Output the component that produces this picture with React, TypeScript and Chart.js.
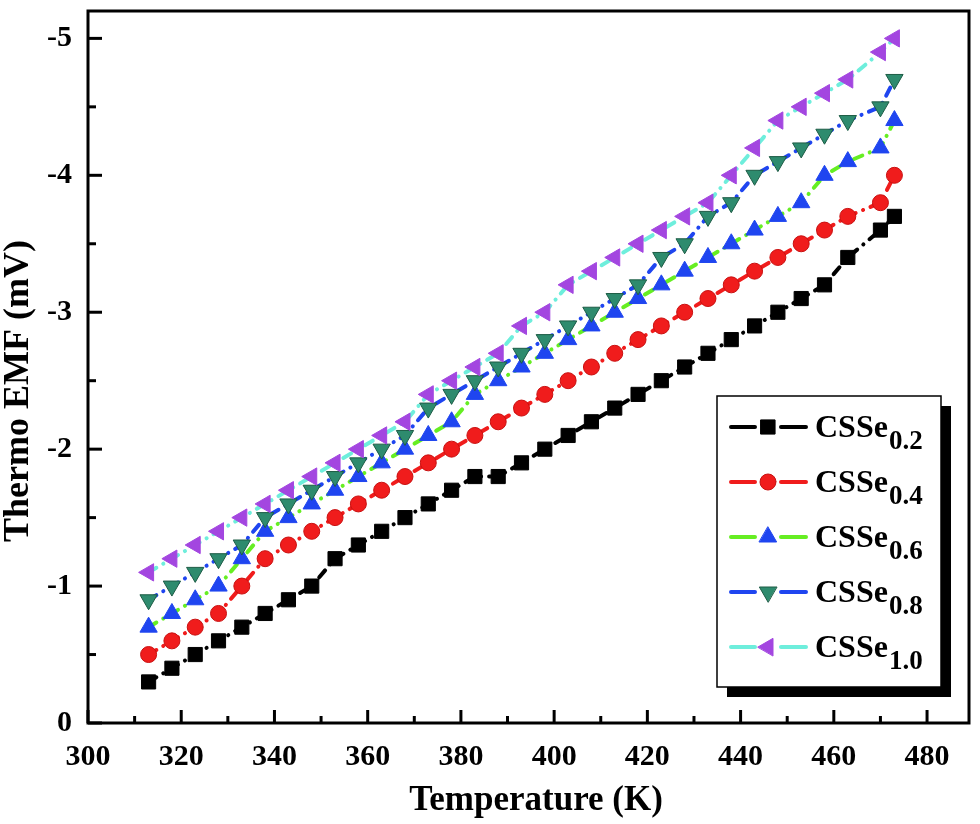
import React, { useEffect, useRef } from 'react';
import { Chart, registerables } from 'chart.js';

Chart.register(...registerables);

const FONT = "'Liberation Serif', 'Times New Roman', serif";

// Temperature (K)
const temperatures = [
  313, 318, 323, 328, 333, 338, 343, 348, 353, 358, 363, 368, 373, 378, 383, 388,
  393, 398, 403, 408, 413, 418, 423, 428, 433, 438, 443, 448, 453, 458, 463, 470, 473,
];

// Thermo EMF (mV)
const emfCSSe02 = [
  -0.3, -0.4, -0.5, -0.6, -0.7, -0.8, -0.9, -1.0, -1.2, -1.3, -1.4, -1.5, -1.6, -1.7, -1.8, -1.8,
  -1.9, -2.0, -2.1, -2.2, -2.3, -2.4, -2.5, -2.6, -2.7, -2.8, -2.9, -3.0, -3.1, -3.2, -3.4, -3.6, -3.7,
];
const emfCSSe04 = [
  -0.5, -0.6, -0.7, -0.8, -1.0, -1.2, -1.3, -1.4, -1.5, -1.6, -1.7, -1.8, -1.9, -2.0, -2.1, -2.2,
  -2.3, -2.4, -2.5, -2.6, -2.7, -2.8, -2.9, -3.0, -3.1, -3.2, -3.3, -3.4, -3.5, -3.6, -3.7, -3.8, -4.0,
];
const emfCSSe06 = [
  -0.7, -0.8, -0.9, -1.0, -1.2, -1.4, -1.5, -1.6, -1.7, -1.8, -1.9, -2.0, -2.1, -2.2, -2.4, -2.5,
  -2.6, -2.7, -2.8, -2.9, -3.0, -3.1, -3.2, -3.3, -3.4, -3.5, -3.6, -3.7, -3.8, -4.0, -4.1, -4.2, -4.4,
];
const emfCSSe08 = [
  -0.9, -1.0, -1.1, -1.2, -1.3, -1.5, -1.6, -1.7, -1.8, -1.9, -2.0, -2.1, -2.3, -2.4, -2.5, -2.6,
  -2.7, -2.8, -2.9, -3.0, -3.1, -3.2, -3.4, -3.5, -3.7, -3.8, -4.0, -4.1, -4.2, -4.3, -4.4, -4.5, -4.7,
];
const emfCSSe10 = [
  -1.1, -1.2, -1.3, -1.4, -1.5, -1.6, -1.7, -1.8, -1.9, -2.0, -2.1, -2.2, -2.4, -2.5, -2.6, -2.7,
  -2.9, -3.0, -3.2, -3.3, -3.4, -3.5, -3.6, -3.7, -3.8, -4.0, -4.2, -4.4, -4.5, -4.6, -4.7, -4.9, -5.0,
];

const seriesValues = [emfCSSe02, emfCSSe04, emfCSSe06, emfCSSe08, emfCSSe10];
const seriesBase = ['CSSe', 'CSSe', 'CSSe', 'CSSe', 'CSSe'];
const seriesSub = ['0.2', '0.4', '0.6', '0.8', '1.0'];

const lineColors = ['#000000', '#f01c1c', '#66ee22', '#1f45f0', '#6eeedc'];
const markerColors = ['#000000', '#f01c1c', '#1f45f0', '#2e8b6e', '#a346e0'];
const markerEdges = ['#000000', '#c81010', '#1f45f0', '#1d5c45', '#a346e0'];
const markerStyles = ['rect', 'circle', 'triangle', 'triangle', 'triangle'];
const markerRotations = [0, 0, 0, 180, 270];
const markerRadii = [10, 8, 10, 10, 10];

const xTickLabels = [300, 320, 340, 360, 380, 400, 420, 440, 460, 480];
const yTickLabels = [0, -1, -2, -3, -4, -5];
const xTitle = 'Temperature (K)';
const yTitle = 'Thermo EMF (mV)';

function drawMarker(ctx, style, rot, x, y, r, fill, stroke) {
  ctx.beginPath();
  if (style === 'rect') {
    const s = r * Math.SQRT1_2;
    ctx.rect(x - s, y - s, 2 * s, 2 * s);
  } else if (style === 'circle') {
    ctx.arc(x, y, r, 0, Math.PI * 2);
  } else {
    let rad = (rot * Math.PI) / 180;
    ctx.moveTo(x + Math.sin(rad) * r, y - Math.cos(rad) * r);
    rad += (2 * Math.PI) / 3;
    ctx.lineTo(x + Math.sin(rad) * r, y - Math.cos(rad) * r);
    rad += (2 * Math.PI) / 3;
    ctx.lineTo(x + Math.sin(rad) * r, y - Math.cos(rad) * r);
    ctx.closePath();
  }
  ctx.fillStyle = fill;
  ctx.fill();
  ctx.lineWidth = 1;
  ctx.strokeStyle = stroke;
  ctx.stroke();
}

const frameTicksPlugin = {
  id: 'frameTicks',
  afterDatasetsDraw(chart) {
    const { ctx, chartArea } = chart;
    const xs = chart.scales.x;
    const ys = chart.scales.y;
    ctx.save();
    ctx.strokeStyle = '#000';
    ctx.lineWidth = 3;
    ctx.lineCap = 'butt';
    xs.ticks.forEach((t) => {
      const v = t.value;
      if (Math.abs(v / 10 - Math.round(v / 10)) > 1e-6) return;
      const major = Math.abs(v / 20 - Math.round(v / 20)) < 1e-6;
      const px = xs.getPixelForValue(v);
      ctx.beginPath();
      ctx.moveTo(px, chartArea.bottom);
      ctx.lineTo(px, chartArea.bottom - (major ? 13 : 7));
      ctx.stroke();
    });
    ys.ticks.forEach((t) => {
      const v = t.value;
      if (Math.abs(v * 2 - Math.round(v * 2)) > 1e-6) return;
      const major = Math.abs(v - Math.round(v)) < 1e-6;
      const py = ys.getPixelForValue(v);
      ctx.beginPath();
      ctx.moveTo(chartArea.left, py);
      ctx.lineTo(chartArea.left + (major ? 14 : 8), py);
      ctx.stroke();
    });
    ctx.strokeRect(chartArea.left, chartArea.top, chartArea.right - chartArea.left, chartArea.bottom - chartArea.top);
    ctx.restore();
  },
};

const titlesLegendPlugin = {
  id: 'titlesLegend',
  afterDraw(chart) {
    const { ctx } = chart;
    ctx.save();
    ctx.fillStyle = '#000';
    ctx.textAlign = 'center';
    ctx.textBaseline = 'middle';
    ctx.font = `bold 35px ${FONT}`;
    ctx.fillText(xTitle, 536, 801);
    ctx.save();
    ctx.translate(19, 391);
    ctx.rotate(-Math.PI / 2);
    ctx.font = `bold 36px ${FONT}`;
    ctx.fillText(yTitle, 0, 0);
    ctx.restore();

    const bx = 717, by = 396, bw = 224, bh = 291;
    ctx.fillStyle = '#000';
    ctx.fillRect(bx + 10, by + 10, bw, bh);
    ctx.fillStyle = '#fff';
    ctx.fillRect(bx, by, bw, bh);
    ctx.strokeStyle = '#000';
    ctx.lineWidth = 1.5;
    ctx.strokeRect(bx, by, bw, bh);

    seriesBase.forEach((base, i) => {
      const cy = by + 31 + i * 55;
      ctx.strokeStyle = lineColors[i];
      ctx.lineWidth = 4;
      ctx.lineCap = 'round';
      ctx.beginPath();
      ctx.moveTo(731, cy);
      ctx.lineTo(755, cy);
      ctx.moveTo(781, cy);
      ctx.lineTo(806, cy);
      ctx.stroke();
      drawMarker(ctx, markerStyles[i], markerRotations[i], 768, cy, markerRadii[i], markerColors[i], markerEdges[i]);
      ctx.fillStyle = '#000';
      ctx.textAlign = 'left';
      ctx.textBaseline = 'alphabetic';
      ctx.font = `bold 32px ${FONT}`;
      ctx.fillText(base, 815, cy + 10);
      const w = ctx.measureText(base).width;
      ctx.font = `bold 27px ${FONT}`;
      ctx.fillText(seriesSub[i], 815 + w + 1, cy + 22);
    });
    ctx.restore();
  },
};

export default function App() {
  const canvasRef = useRef(null);

  useEffect(() => {
    const canvas = canvasRef.current;
    if (!canvas) return;
    const datasets = seriesValues.map((vals, i) => ({
      label: seriesBase[i] + seriesSub[i],
      data: temperatures.map((t, k) => ({ x: t, y: vals[k] })),
      borderColor: lineColors[i],
      backgroundColor: markerColors[i],
      borderWidth: 4,
      borderDash: [9, 8, 0.1, 8],
      borderCapStyle: 'round',
      pointStyle: markerStyles[i],
      pointRotation: markerRotations[i],
      pointRadius: markerRadii[i],
      pointBackgroundColor: markerColors[i],
      pointBorderColor: markerEdges[i],
      pointBorderWidth: 1,
      tension: 0,
      order: 4 - i,
    }));

    const chart = new Chart(canvas, {
      type: 'line',
      data: { datasets },
      options: {
        animation: false,
        responsive: false,
        events: [],
        layout: { padding: { top: 4, right: 10, left: 0, bottom: 0 } },
        plugins: { legend: { display: false }, tooltip: { enabled: false }, title: { display: false } },
        scales: {
          x: {
            type: 'linear',
            min: 300,
            max: 489,
            grid: { display: true, drawOnChartArea: false, drawTicks: false },
            border: { display: false },
            ticks: {
              stepSize: 10,
              includeBounds: false,
              autoSkip: false,
              maxRotation: 0,
              minRotation: 0,
              padding: 16,
              color: '#000',
              font: { family: FONT, size: 30, weight: 'bold' },
              callback: (v) => (xTickLabels.includes(Number(v)) ? String(v) : ''),
            },
            afterFit: (scale) => {
              scale.height = 101;
              scale.paddingLeft = 0;
              scale.paddingRight = 0;
            },
          },
          y: {
            type: 'linear',
            min: -5.2,
            max: 0,
            reverse: true,
            grid: { display: true, drawOnChartArea: false, drawTicks: false },
            border: { display: false },
            ticks: {
              stepSize: 0.5,
              includeBounds: false,
              autoSkip: false,
              padding: 16,
              color: '#000',
              font: { family: FONT, size: 30, weight: 'bold' },
              callback: (v) => {
                const n = Number(v);
                const r = Math.round(n);
                return Math.abs(n - r) < 1e-6 && yTickLabels.includes(r) ? String(r) : '';
              },
            },
            afterFit: (scale) => {
              scale.width = 88;
              scale.paddingTop = 0;
              scale.paddingBottom = 0;
            },
          },
        },
      },
      plugins: [frameTicksPlugin, titlesLegendPlugin],
    });

    return () => {
      chart.destroy();
    };
  }, []);

  return (
    <div style={{ position: 'absolute', left: 0, top: 0, width: 980, height: 824, background: '#fff' }}>
      <canvas ref={canvasRef} width={980} height={824} style={{ display: 'block' }} />
    </div>
  );
}
